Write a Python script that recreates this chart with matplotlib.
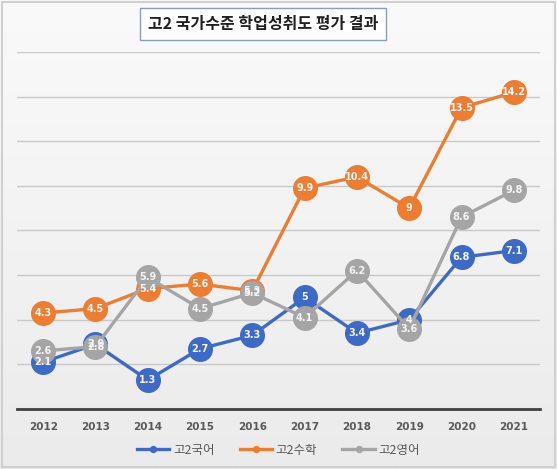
import matplotlib
matplotlib.use("Agg")
import matplotlib.pyplot as plt
from matplotlib.patches import Rectangle
import numpy as np

plt.rcParams['font.family'] = ['Noto Sans CJK KR', 'DejaVu Sans']

years = ['2012', '2013', '2014', '2015', '2016', '2017', '2018', '2019', '2020', '2021']
korean = [2.1, 2.9, 1.3, 2.7, 3.3, 5, 3.4, 4, 6.8, 7.1]
math = [4.3, 4.5, 5.4, 5.6, 5.3, 9.9, 10.4, 9, 13.5, 14.2]
english = [2.6, 2.8, 5.9, 4.5, 5.2, 4.1, 6.2, 3.6, 8.6, 9.8]
series_names = ['고2국어', '고2수학', '고2영어']
colors = ['#3d6ac6', '#ed7d31', '#a5a5a5']

fig = plt.figure(figsize=(5.57, 4.69), dpi=100)
fig.patch.set_facecolor('#f1f1f1')

# subtle background gradient
bg = fig.add_axes([0, 0, 1, 1], zorder=-10)
grad = np.linspace(0, 1, 256).reshape(-1, 1)
bg.imshow(grad, aspect='auto', cmap=matplotlib.colors.LinearSegmentedColormap.from_list(
    'g', ['#fafafa', '#ebebeb']), extent=[0, 1, 0, 1], origin='upper')
bg.axis('off')

ax = fig.add_axes([17/557, 1-409/469, (540-17)/557, (409-52)/469])
ax.set_facecolor('none')

x = np.arange(len(years))
for i, (vals, name, c) in enumerate(zip([korean, math, english], series_names, colors)):
    ax.plot(x, vals, color=c, lw=2.4, marker='o', ms=17, mfc=c, mec=c,
            label=name, zorder=3 + i, clip_on=False)
    for xi, v in zip(x, vals):
        ax.text(xi, v, f'{v:g}', ha='center', va='center', color='#f4f4f4',
                fontsize=7, fontweight='bold', zorder=10, family='DejaVu Sans')

ax.set_xlim(-0.5, len(years) - 0.5)
ax.set_ylim(0, 16)
ax.set_yticks(np.arange(2, 17, 2))
ax.yaxis.grid(True, color='#c9c9c9', lw=1)
ax.set_axisbelow(True)
ax.tick_params(axis='y', length=0, labelleft=False)
ax.set_xticks(x)
ax.set_xticklabels(years, fontsize=7.5, color='#595959', fontweight='bold', family='DejaVu Sans')
ax.tick_params(axis='x', length=0, pad=9)
for s in ['top', 'right', 'left']:
    ax.spines[s].set_visible(False)
ax.spines['bottom'].set_color('#404040')
ax.spines['bottom'].set_linewidth(2)

leg = fig.legend(loc='center', bbox_to_anchor=(0.5, 1 - 450/469), ncol=3, frameon=False,
                 fontsize=9, markerscale=0.25, handlelength=2.6, columnspacing=2.0,
                 handletextpad=0.3)
for t in leg.get_texts():
    t.set_color('#595959')

fig.text(263/557, 1 - 24/469, '고2 국가수준 학업성취도 평가 결과', ha='center', va='center',
         fontsize=11.5, fontweight='bold', color='#202020',
         bbox=dict(boxstyle='square,pad=0.5', fc='white', ec='#8a9cc0', lw=1))

fig.patches.append(Rectangle((0.004, 0.004), 0.992, 0.992, transform=fig.transFigure,
                             fill=False, ec='#d0d0d0', lw=1.5))

fig.savefig('out.png', dpi=100, facecolor=fig.get_facecolor())
